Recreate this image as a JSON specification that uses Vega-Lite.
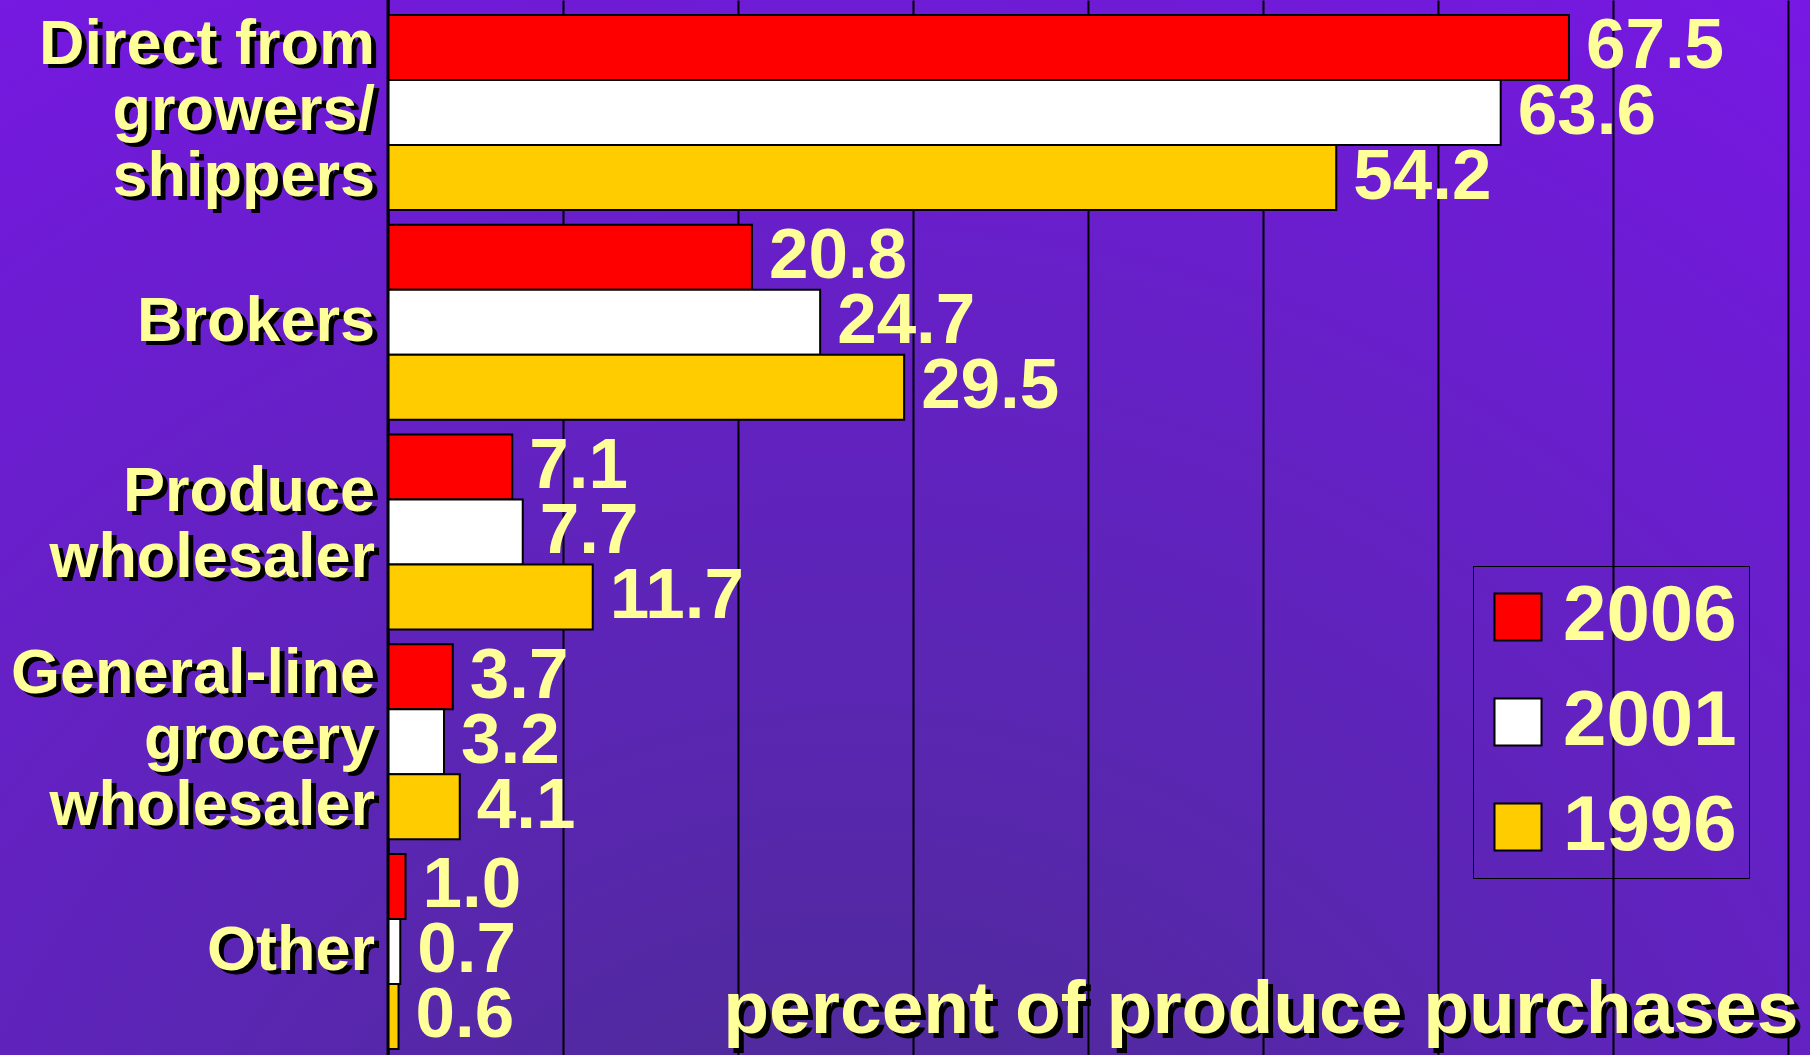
{
  "$schema": "https://vega.github.io/schema/vega-lite/v6.json",
  "width": 1810,
  "height": 1055,
  "autosize": "none",
  "padding": 0,
  "background": "#5E24B8",
  "config": {
    "font": "Liberation Sans",
    "view": {
      "stroke": null,
      "fill": {
        "gradient": "radial",
        "x1": 0.47, "y1": 1, "r1": 0,
        "x2": 0.47, "y2": 1, "r2": 1,
        "stops": [
          {"offset": 0, "color": "#462E88"},
          {"offset": 0.45, "color": "#5C25B6"},
          {"offset": 1, "color": "#7A16E8"}
        ]
      }
    }
  },
  "data": {
    "values": [
      {"category": "Direct from\ngrowers/\nshippers", "year": "2006", "value": 67.5},
      {"category": "Direct from\ngrowers/\nshippers", "year": "2001", "value": 63.6},
      {"category": "Direct from\ngrowers/\nshippers", "year": "1996", "value": 54.2},
      {"category": "Brokers", "year": "2006", "value": 20.8},
      {"category": "Brokers", "year": "2001", "value": 24.7},
      {"category": "Brokers", "year": "1996", "value": 29.5},
      {"category": "Produce\nwholesaler", "year": "2006", "value": 7.1},
      {"category": "Produce\nwholesaler", "year": "2001", "value": 7.7},
      {"category": "Produce\nwholesaler", "year": "1996", "value": 11.7},
      {"category": "General-line\ngrocery\nwholesaler", "year": "2006", "value": 3.7},
      {"category": "General-line\ngrocery\nwholesaler", "year": "2001", "value": 3.2},
      {"category": "General-line\ngrocery\nwholesaler", "year": "1996", "value": 4.1},
      {"category": "Other", "year": "2006", "value": 1.0},
      {"category": "Other", "year": "2001", "value": 0.7},
      {"category": "Other", "year": "1996", "value": 0.6}
    ]
  },
  "resolve": {"axis": {"x": "independent"}},
  "layer": [
    {
      "mark": {"type": "bar", "stroke": "black", "strokeWidth": 2},
      "encoding": {
        "x": {
          "field": "value", "type": "quantitative",
          "scale": {"domain": [-22.18, 81.28], "nice": false, "zero": false},
          "axis": {
            "orient": "bottom",
            "values": [0, 10, 20, 30, 40, 50, 60, 70, 80],
            "grid": true, "gridColor": "black", "gridWidth": 2, "gridOpacity": 1,
            "labels": false, "ticks": false, "domain": false,
            "title": "percent of produce purchases",
            "titleColor": "black", "titleFontSize": 75, "titleFont": "Liberation Sans", "titleFontWeight": "bold",
            "titleAlign": "right", "titleAnchor": null, "titleBaseline": "alphabetic",
            "titleX": 1803, "titleY": -18, "titleLimit": 2000
          }
        },
        "y": {
          "field": "category", "type": "nominal", "sort": null,
          "scale": {"paddingInner": 0.07, "paddingOuter": 0.05, "align": 0.714},
          "axis": null
        },
        "yOffset": {
          "field": "year", "type": "nominal", "sort": ["2006", "2001", "1996"],
          "scale": {"paddingInner": 0, "paddingOuter": 0}
        },
        "color": {
          "field": "year", "type": "nominal",
          "scale": {"domain": ["2006", "2001", "1996"], "range": ["#FF0000", "#FFFFFF", "#FFCC00"]},
          "legend": {
            "orient": "none", "legendX": 1473, "legendY": 566, "title": null, "direction": "vertical",
            "strokeColor": "black", "padding": 12, "rowPadding": 27,
            "symbolType": "square", "symbolSize": 2209, "symbolStrokeColor": "black", "symbolStrokeWidth": 2, "symbolOpacity": 1,
            "symbolOffset": -6,
            "labelFontSize": 78, "labelFont": "Liberation Sans", "labelFontWeight": "bold", "labelColor": "#FFFF99",
            "labelOffset": 6, "labelLimit": 400
          }
        }
      }
    },
    {
      "data": {"values": [{}]},
      "mark": {"type": "rule", "color": "black", "strokeWidth": 3},
      "encoding": {"x": {"datum": 0, "type": "quantitative", "axis": null}}
    },
    {
      "mark": {"type": "text", "align": "left", "baseline": "middle", "dx": 17, "fontSize": 71, "fontWeight": "bold", "color": "#FFFF99", "font": "Liberation Sans"},
      "encoding": {
        "x": {
          "field": "value", "type": "quantitative",
          "axis": {
            "orient": "top", "grid": false, "labels": false, "ticks": false, "domain": false, "zindex": 1,
            "title": "percent of produce purchases",
            "titleColor": "#FFFF99", "titleFontSize": 75, "titleFont": "Liberation Sans", "titleFontWeight": "bold",
            "titleAlign": "right", "titleAnchor": null, "titleBaseline": "alphabetic",
            "titleX": 1798, "titleY": 1032, "titleLimit": 2000
          }
        },
        "y": {"field": "category", "type": "nominal", "sort": null, "axis": null},
        "yOffset": {"field": "year", "type": "nominal", "sort": ["2006", "2001", "1996"]},
        "text": {"field": "value", "type": "quantitative", "format": ".1f"}
      }
    },
    {
      "transform": [{"filter": "datum.year == '2006'"}],
      "mark": {
        "type": "text", "align": "right", "baseline": "middle", "dx": -8,
        "dy": {"expr": "length(split(datum.category, '\\n')) == 3 ? -64 : (length(split(datum.category, '\\n')) == 2 ? -36 : 4)"},
        "fontSize": 63, "fontWeight": "bold", "color": "black", "font": "Liberation Sans", "lineBreak": "\n", "lineHeight": 66
      },
      "encoding": {
        "x": {"datum": 0, "type": "quantitative", "axis": null},
        "y": {"field": "category", "type": "nominal", "sort": null, "axis": null},
        "text": {"field": "category", "type": "nominal"}
      }
    },
    {
      "transform": [{"filter": "datum.year == '2006'"}],
      "mark": {
        "type": "text", "align": "right", "baseline": "middle", "dx": -13,
        "dy": {"expr": "length(split(datum.category, '\\n')) == 3 ? -68 : (length(split(datum.category, '\\n')) == 2 ? -40 : 0)"},
        "fontSize": 63, "fontWeight": "bold", "color": "#FFFF99", "font": "Liberation Sans", "lineBreak": "\n", "lineHeight": 66
      },
      "encoding": {
        "x": {"datum": 0, "type": "quantitative", "axis": null},
        "y": {"field": "category", "type": "nominal", "sort": null, "axis": null},
        "text": {"field": "category", "type": "nominal"}
      }
    }
  ]
}
